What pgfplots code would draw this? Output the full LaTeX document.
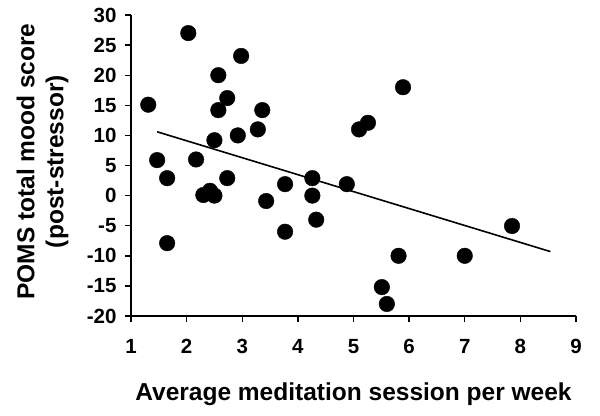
\documentclass[border=0pt]{standalone}
\usepackage{pgfplots}
\pgfplotsset{compat=1.18}
\usepackage{fontspec}
\setmainfont{Liberation Sans}
\begin{document}
\begin{tikzpicture}
\path[use as bounding box] (-131bp,-100bp) rectangle (469bp,316bp);
\begin{axis}[
  scale only axis,
  width=445bp, height=301bp,
  at={(0,0)}, anchor=south west,
  xmin=1, xmax=9, ymin=-20, ymax=30,
  xtick={1,...,9}, ytick={-20,-15,...,30},
  axis lines=left,
  axis line style={-, line width=1.6bp},
  tick style={black, line width=1.4bp},
  tick align=outside,
  major tick length=6bp,
  /pgf/number format/assume math mode=true,
  ticklabel style={font=\fontsize{20.5bp}{22bp}\selectfont\bfseries},
  xticklabel style={yshift=-14bp},
  yticklabel style={xshift=-5bp},
  xlabel={Average meditation session per week},
  ylabel={POMS total mood score\\(post-stressor)},
  label style={font=\fontsize{24.5bp}{29bp}\selectfont\bfseries, align=center},
  xlabel style={at={(axis description cs:0.5,-0.26)}, anchor=center},
  ylabel style={at={(axis description cs:-0.199,0.513)}, anchor=center},
  clip=false,
]
\addplot[only marks, mark=*, mark size=7.8bp, black] coordinates {
(1.31,15.1) (1.47,5.9) (1.65,2.9) (1.65,-7.9) (2.03,27) (2.17,6)
(2.3,0.1) (2.42,0.8) (2.5,0) (2.5,9.2) (2.57,20) (2.57,14.2)
(2.73,16.2) (2.73,2.9) (2.92,10) (2.98,23.2) (3.28,11) (3.36,14.2)
(3.43,-0.9) (3.77,1.9) (3.77,-6) (4.26,2.9) (4.26,0) (4.33,-4)
(4.88,1.9) (5.1,11) (5.26,12.1) (5.51,-15.2) (5.6,-18) (5.81,-10)
(5.89,18) (7.0,-10) (7.85,-5.05)
};
\addplot[black, line width=1.6bp] coordinates {(1.47,10.6) (8.54,-9.3)};
\end{axis}
\end{tikzpicture}
\end{document}
